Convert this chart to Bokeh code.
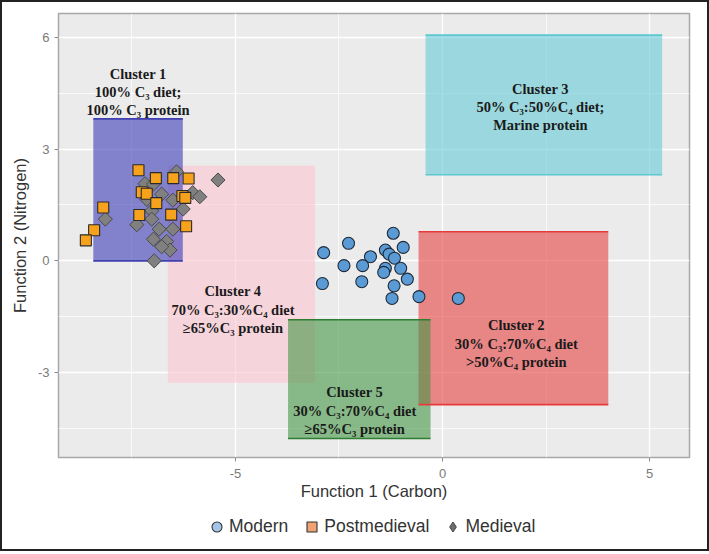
import numpy as np
from bokeh.plotting import figure
from bokeh.layouts import column
from bokeh.models import (ColumnDataSource, Range1d, FixedTicker, Legend,
                          LegendItem, CustomJSTickFormatter)
from bokeh.core.properties import value
from bokeh.embed import file_html
from bokeh.resources import INLINE

# ---------------- data ----------------
modern_x = [-1.19, -2.27, -2.87, -0.95, -1.38, -1.74, -1.29, -1.16, -2.38, -1.93,
            -1.38, -1.42, -1.01, -0.85, -2.90, -1.95, -1.17, -1.22, -0.57, 0.38]
modern_y = [0.74, 0.47, 0.22, 0.36, 0.29, 0.11, 0.18, 0.07, -0.13, -0.13,
            -0.20, -0.31, -0.20, -0.49, -0.61, -0.56, -0.67, -1.01, -0.96, -1.01]

post_x = [-7.34, -6.92, -6.50, -6.13, -7.26, -7.14, -6.28, -6.21, -6.91, -8.19,
          -7.32, -6.55, -6.19, -8.41, -8.61]
post_y = [2.43, 2.22, 2.22, 2.21, 1.84, 1.80, 1.74, 1.69, 1.55, 1.43,
          1.23, 1.24, 0.93, 0.82, 0.55]

med_x = [-6.42, -7.18, -6.98, -6.78, -6.03, -5.86, -7.14, -6.51, -6.26, -7.02,
         -7.02, -7.38, -6.84, -6.51, -6.98, -6.66, -6.58, -6.78, -6.96, -8.14, -5.42]
med_y = [2.39, 2.07, 2.06, 1.79, 1.83, 1.72, 1.65, 1.63, 1.39, 1.34,
         1.12, 0.97, 0.85, 0.85, 0.58, 0.52, 0.29, 0.38, 0.00, 1.12, 2.17]

cluster_names = ["Cluster 4", "Cluster 1", "Cluster 3", "Cluster 2", "Cluster 5"]
cluster_left = [-6.63, -8.43, -0.41, -0.58, -3.73]
cluster_right = [-3.08, -6.27, 5.30, 4.00, -0.29]
cluster_bottom = [-3.27, 0.00, 2.31, -3.86, -4.77]
cluster_top = [2.55, 3.81, 6.06, 0.78, -1.58]
cluster_label_x = [-5.06, -7.35, 2.36, 1.78, -2.12]
cluster_label_y = [-1.31, 4.53, 4.13, -2.23, -4.02]
cluster_text = [
    "Cluster 4\n70% C\u2083:30%C\u2084 diet\n\u226565%C\u2083 protein",
    "Cluster 1\n100% C\u2083 diet;\n100% C\u2083 protein",
    "Cluster 3\n50% C\u2083:50%C\u2084 diet;\nMarine protein",
    "Cluster 2\n30% C\u2083:70%C\u2084 diet\n>50%C\u2084 protein",
    "Cluster 5\n30% C\u2083:70%C\u2084 diet\n\u226565%C\u2083 protein",
]
cluster_fill = ["#FDC5D2", "#3A3AB8", "#66CAD5", "#E64141", "#449645"]
cluster_line = [None, "#3F3FB0", "#5CC8D0", "#E83A3A", "#2E7D32"]

x_ticks = [-5, 0, 5]
x_minor = [-7.5, -2.5, 2.5]
y_ticks = [-3, 0, 3, 6]
y_minor = [-4.5, -1.5, 1.5, 4.5]

legend_labels = ["Modern", "Postmedieval", "Medieval"]

# ---------------- main figure ----------------
W = 705
p = figure(width=W, height=503, output_backend="svg", toolbar_location=None,
           x_range=Range1d(-9.27, 5.96), y_range=Range1d(-5.28, 6.64),
           min_border_left=56, min_border_right=18, min_border_top=11,
           min_border_bottom=48)
p.background_fill_color = "#EBEBEB"
p.border_fill_color = "white"
p.outline_line_color = "#A8A8A8"
p.outline_line_width = 1.5

fmt = CustomJSTickFormatter(code="return String(tick);")
p.xaxis.ticker = FixedTicker(ticks=x_ticks, minor_ticks=x_minor)
p.yaxis.ticker = FixedTicker(ticks=y_ticks, minor_ticks=y_minor)
p.xaxis.formatter = fmt
p.yaxis.formatter = fmt
for g in (p.xgrid, p.ygrid):
    g.grid_line_color = "white"
    g.grid_line_width = 1.3
    g.minor_grid_line_color = "white"
    g.minor_grid_line_width = 0.7

for ax in (p.xaxis, p.yaxis):
    ax.axis_line_color = None
    ax.major_tick_line_color = "#8A8A8A"
    ax.major_tick_out = 4
    ax.major_tick_in = 0
    ax.minor_tick_line_color = None
    ax.major_label_text_font = "Liberation Sans"
    ax.major_label_text_font_size = "13px"
    ax.major_label_text_color = "#7A7A7A"
    ax.axis_label_text_font = "Liberation Sans"
    ax.axis_label_text_font_size = "16.5px"
    ax.axis_label_text_font_style = "normal"
    ax.axis_label_text_color = "#333333"
p.xaxis.major_label_standoff = 7
p.xaxis.axis_label_standoff = 1
p.yaxis.axis_label_standoff = 6
p.xaxis.axis_label = "Function 1 (Carbon)"
p.yaxis.axis_label = "Function 2 (Nitrogen)"

csrc = ColumnDataSource(dict(left=cluster_left, right=cluster_right,
                             bottom=cluster_bottom, top=cluster_top,
                             fill=cluster_fill))
p.quad(left="left", right="right", bottom="bottom", top="top", source=csrc,
       fill_color="fill", fill_alpha=0.6, line_color=None)

for i in range(len(cluster_names)):
    if cluster_line[i] is None:
        continue
    p.segment(x0=[cluster_left[i], cluster_left[i]],
              x1=[cluster_right[i], cluster_right[i]],
              y0=[cluster_top[i], cluster_bottom[i]],
              y1=[cluster_top[i], cluster_bottom[i]],
              line_color=cluster_line[i], line_width=1.6)

msrc = ColumnDataSource(dict(x=med_x, y=med_y))
p.scatter("x", "y", source=msrc, marker="square", angle=np.pi / 4, size=10,
          fill_color="#808080", line_color="#4A4A4A", line_width=1.0)
psrc = ColumnDataSource(dict(x=post_x, y=post_y))
p.scatter("x", "y", source=psrc, marker="square", size=11,
          fill_color="#F6A21D", line_color="#2A2A2A", line_width=1.1)
osrc = ColumnDataSource(dict(x=modern_x, y=modern_y))
p.scatter("x", "y", source=osrc, marker="circle", size=12,
          fill_color="#5B9BD5", line_color="#1E2A38", line_width=1.1)

tsrc = ColumnDataSource(dict(x=cluster_label_x, y=cluster_label_y, t=cluster_text))
p.text("x", "y", text="t", source=tsrc, text_font=value("Liberation Serif"),
       text_font_style="bold", text_font_size="14.5px", text_color="#1A1A1A",
       text_align="center", text_baseline="middle", text_line_height=1.15)

# ---------------- legend strip ----------------
q = figure(width=W, height=44, output_backend="svg", toolbar_location=None,
           x_range=Range1d(100, 101), y_range=Range1d(100, 101),
           x_axis_location=None, y_axis_location=None, min_border=0)
q.outline_line_color = None
q.grid.visible = False
q.background_fill_color = "white"
q.border_fill_color = "white"
l_mod = q.scatter("x", "y", source=osrc, marker="circle",
                  fill_color="#A3C6E6", line_color="#333333", line_width=1.1)
l_post = q.scatter("x", "y", source=psrc, marker="square",
                   fill_color="#F0A274", line_color="#333333", line_width=1.1)
l_med = q.scatter("x", "y", source=msrc, marker="diamond",
                  fill_color="#6E6E6E", line_color="#444444", line_width=1.0)
legend = Legend(items=[LegendItem(label=legend_labels[0], renderers=[l_mod]),
                       LegendItem(label=legend_labels[1], renderers=[l_post]),
                       LegendItem(label=legend_labels[2], renderers=[l_med])],
                orientation="horizontal", location=(146, 10),
                border_line_color=None, background_fill_alpha=0,
                label_text_font="Liberation Sans", label_text_font_size="17.5px",
                label_text_color="#333333", glyph_width=25, glyph_height=25,
                label_standoff=0, spacing=11, padding=8, margin=0)
q.add_layout(legend, "center")

layout = column(p, q, spacing=0)
layout.styles = {"border": "2px solid #222222", "box-sizing": "content-box"}

open("out.html", "w").write(file_html(layout, INLINE))
